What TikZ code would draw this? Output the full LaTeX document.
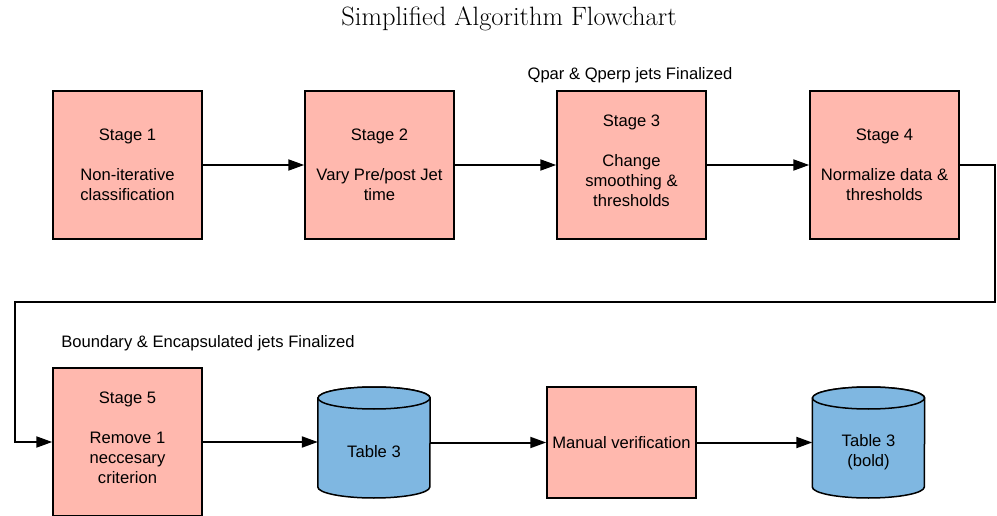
\documentclass[tikz,border=0pt]{standalone}
\usepackage{fontspec}
\newfontfamily\lblfont{Liberation Sans}
\usetikzlibrary{arrows.meta,calc}
\definecolor{pinkfill}{HTML}{FFB8AE}
\definecolor{bluefill}{HTML}{7FB7E1}
\begin{document}
\begin{tikzpicture}[x=1pt,y=-1pt,
  lbl/.style={font=\lblfont\fontsize{16.6}{20}\selectfont, align=center, inner sep=0pt},
  stagebox/.style={lbl, draw=black, line width=1.5pt, fill=pinkfill, minimum width=149pt, minimum height=148pt},
  cylframe/.style={inner sep=0pt, minimum width=112pt, minimum height=111pt},
  cylpaint/.style={draw=black, line width=1.5pt, fill=bluefill},
  arr/.style={draw=black, line width=2pt, -{Triangle[length=16pt,width=11pt]}}
]
\useasboundingbox (0,0) rectangle (997,516);

% title
\node[font=\fontsize{26.5}{30}\selectfont, inner sep=0pt] (title) at (509,19) {Simplified Algorithm Flowchart};

% stages
\node[stagebox] (s1) at (127.5,165) {Stage 1\\[20pt]Non-iterative\\classification};
\node[stagebox] (s2) at (379.5,165) {Stage 2\\[20pt]Vary Pre/post Jet\\time};
\node[stagebox, text depth=8pt] (s3) at (631.5,165) {Stage 3\\[20pt]Change\\smoothing \&\\thresholds};
\node[stagebox] (s4) at (884.5,165) {Stage 4\\[20pt]Normalize data \&\\thresholds};
\node[stagebox, text depth=8pt] (s5) at (127.5,442) {Stage 5\\[20pt]Remove 1\\neccesary\\criterion};
\node[stagebox, minimum height=111pt] (mv) at (621.5,442.5) {Manual verification};

% cylinders
\node[cylframe] (t3) at (374,442.5) {};
\node[cylframe] (t3b) at (868.5,442.5) {};
\foreach \c in {t3,t3b}{
  \path[cylpaint] ($(\c.west)+(0,-44.5)$) -- ($(\c.west)+(0,44.5)$)
     arc[start angle=180, end angle=360, x radius=56pt, y radius=11pt]
     -- ($(\c.east)+(0,-44.5)$)
     arc[start angle=0, end angle=180, x radius=56pt, y radius=11pt] -- cycle;
  \draw[cylpaint] ($(\c.center)+(0,-44.5)$) ellipse[x radius=56pt, y radius=11pt];
}
\node[lbl] (t3txt) at (374,452) {Table 3};
\node[lbl] (t3btxt) at (868.5,452) {Table 3\\(bold)};

% labels
\node[lbl] (qlab) at (630,75) {Qpar \& Qperp jets Finalized};
\node[lbl] (blab) at (208,343) {Boundary \& Encapsulated jets Finalized};

% connectors
\coordinate (r1) at (995,302);
\coordinate (l1) at (15,302);
\draw[arr] (s1.east) -- (s2.west);
\draw[arr] (s2.east) -- (s3.west);
\draw[arr] (s3.east) -- (s4.west);
\draw[arr] (s4.east) -| (r1) -- (l1) |- (s5.west);
\draw[arr] (s5.east) -- (s5.east -| t3.west);
\draw[arr] (t3.east) -- (mv.west);
\draw[arr] (mv.east) -- (t3b.west);
\end{tikzpicture}
\end{document}
